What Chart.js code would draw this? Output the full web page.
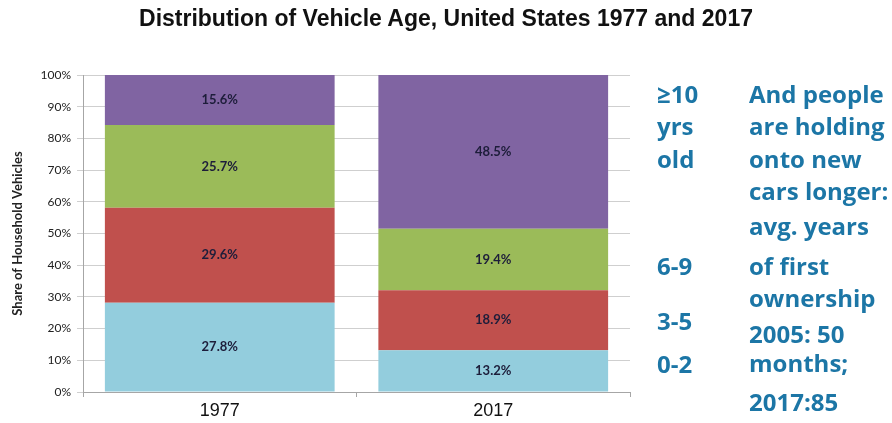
<!DOCTYPE html>
<html>
<head>
<meta charset="utf-8">
<script src="https://cdn.jsdelivr.net/npm/chart.js@4"></script>
<style>
  body { margin: 0; background: #fff; }
  #wrap { position: relative; width: 892px; height: 423px; overflow: hidden; }
  #chart { position: absolute; left: 0; top: 0; }
  #title {
    position: absolute; left: 0; top: 5px; width: 892px; text-align: center;
    font-family: "Liberation Sans", Arial, sans-serif;
    font-weight: bold; font-size: 23px; color: #111;
  }
  .note {
    position: absolute; font-family: "Open Sans", Lato, sans-serif; font-weight: bold;
    font-size: 24px; line-height: 30px; color: #1c76a6; white-space: nowrap;
  }
</style>
</head>
<body>
<div id="wrap">
  <canvas id="chart" width="892" height="423"></canvas>
  <div id="title">Distribution of Vehicle Age, United States 1977 and 2017</div>
</div>
<script>
const years = ['1977', '2017'];
const ageGroups = ['0-2', '3-5', '6-9', '≥10'];
const share0to2 = [27.8, 13.2];
const share3to5 = [29.6, 18.9];
const share6to9 = [25.7, 19.4];
const share10plus = [15.6, 48.5];
const colors = ['#93cddd', '#c0504d', '#9bbb59', '#8064a2'];

// side notes: [text, x, centre y]
const ageNotes = [['≥10', 657, 96], ['yrs', 657, 128], ['old', 657, 161], ['6-9', 657, 268], ['3-5', 657, 323], ['0-2', 657, 366]];
const holdNotes = [
    ['And people', 749, 96], ['are holding', 749, 128], ['onto new', 749, 161], ['cars longer:', 749, 193],
    ['avg. years', 749, 228], ['of first', 749, 268], ['ownership', 749, 300], ['2005: 50', 749, 336],
    ['months;', 749, 365], ['2017:85', 749, 404]
];

const wrap = document.getElementById('wrap');
[...ageNotes, ...holdNotes].forEach(([text, x, y]) => {
    const d = document.createElement('div');
    d.className = 'note';
    d.textContent = text;
    d.style.left = x + 'px';
    d.style.top = (y - 17) + 'px';
    wrap.appendChild(d);
});

const raw = [share0to2, share3to5, share6to9, share10plus];
// 100% stacked columns, like the original
const totals = years.map((_, i) => raw.reduce((s, arr) => s + arr[i], 0));

const datasets = raw.map((arr, k) => ({
    label: ageGroups[k],
    data: arr.map((v, i) => v / totals[i] * 100),
    shown: arr,
    backgroundColor: colors[k],
    borderWidth: 0,
    categoryPercentage: 1,
    barPercentage: 0.84
}));

const segmentLabels = {
    id: 'segmentLabels',
    afterDatasetsDraw(chart) {
        const ctx = chart.ctx;
        ctx.save();
        ctx.font = 'bold 13px Lato, "Open Sans", sans-serif';
        ctx.fillStyle = '#1d1d3a';
        ctx.textAlign = 'center';
        ctx.textBaseline = 'middle';
        chart.data.datasets.forEach((ds, k) => {
            chart.getDatasetMeta(k).data.forEach((bar, i) => {
                const mid = (bar.y + bar.base) / 2;
                ctx.fillText(ds.shown[i].toFixed(1) + '%', bar.x, mid);
            });
        });
        ctx.restore();
    }
};

new Chart(document.getElementById('chart'), {
    type: 'bar',
    data: { labels: years, datasets },
    options: {
        responsive: false,
        animation: false,
        layout: { padding: { top: 75, right: 262, left: 0, bottom: 0 } },
        plugins: { legend: { display: false }, tooltip: { enabled: false } },
        scales: {
            x: {
                stacked: true,
                grid: { drawOnChartArea: false, drawTicks: true, tickLength: 5, color: '#a6a6a6', offset: true },
                border: { color: '#a6a6a6' },
                ticks: { color: '#111', padding: 3, font: { family: '"Liberation Sans", sans-serif', size: 18 } },
                afterFit: (s) => { s.height = 31; }
            },
            y: {
                stacked: true,
                min: 0, max: 100,
                grid: { color: '#cfcfcf', tickLength: 6 },
                border: { color: '#a6a6a6' },
                ticks: {
                    stepSize: 10, padding: 6, color: '#222',
                    font: { family: 'Lato, "Open Sans", sans-serif', size: 12 },
                    callback: (v) => v + '%'
                },
                title: {
                    display: true, text: 'Share of Household Vehicles', color: '#222',
                    font: { family: 'Lato, "Open Sans", sans-serif', size: 13, weight: 'bold' },
                    padding: { top: 10, bottom: 0 }
                },
                afterFit: (s) => { s.width = 83; }
            }
        }
    },
    plugins: [segmentLabels]
});
</script>
</body>
</html>
